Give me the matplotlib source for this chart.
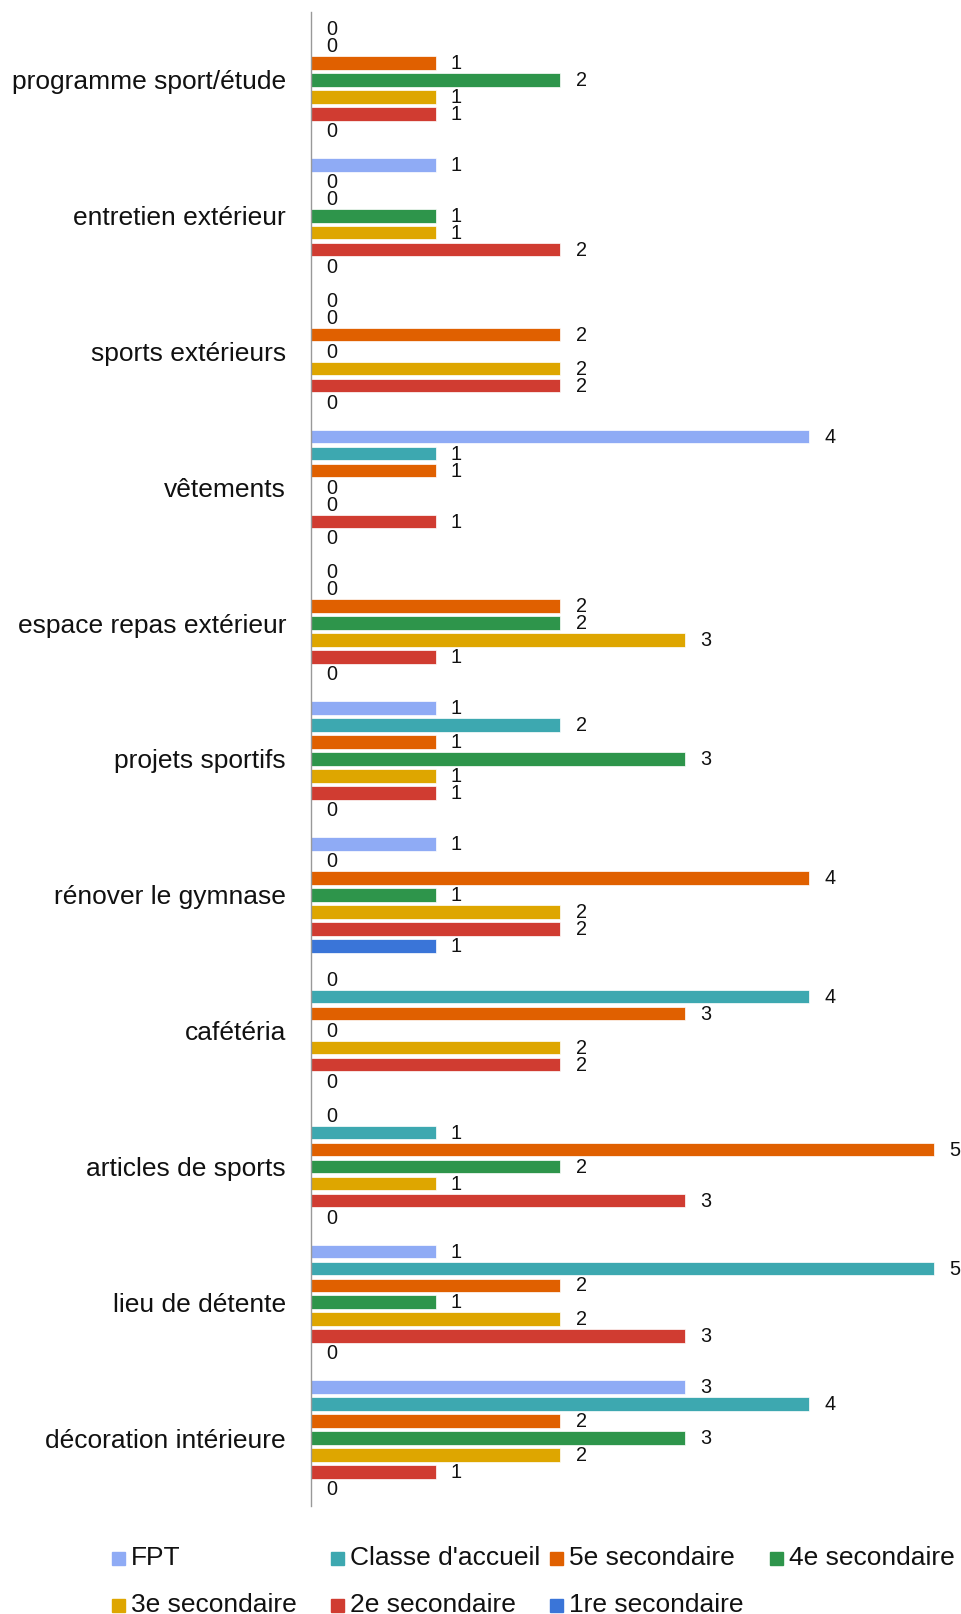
import numpy as np
import matplotlib
matplotlib.use("Agg")
import matplotlib.pyplot as plt
from matplotlib.patches import Rectangle

plt.rcParams["font.family"] = ["Liberation Sans", "DejaVu Sans"]

categories = [
    "programme sport/étude", "entretien extérieur", "sports extérieurs",
    "vêtements", "espace repas extérieur", "projets sportifs",
    "rénover le gymnase", "cafétéria", "articles de sports",
    "lieu de détente", "décoration intérieure",
]
series_names = [
    "FPT", "Classe d'accueil", "5e secondaire", "4e secondaire",
    "3e secondaire", "2e secondaire", "1re secondaire",
]
fpt = [0, 1, 0, 4, 0, 1, 1, 0, 0, 1, 3]
accueil = [0, 0, 0, 1, 0, 2, 0, 4, 1, 5, 4]
sec5 = [1, 0, 2, 1, 2, 1, 4, 3, 5, 2, 2]
sec4 = [2, 1, 0, 0, 2, 3, 1, 0, 2, 1, 3]
sec3 = [1, 1, 2, 0, 3, 1, 2, 2, 1, 2, 2]
sec2 = [1, 2, 2, 1, 1, 1, 2, 2, 3, 3, 1]
sec1 = [0, 0, 0, 0, 0, 0, 1, 0, 0, 0, 0]
colors = ["#8FABF5", "#3DA8B0", "#E06000", "#2E954B", "#DEA600", "#D03C31", "#3A75D8"]

series = [fpt, accueil, sec5, sec4, sec3, sec2, sec1]

W, H = 961, 1614
fig = plt.figure(figsize=(W / 100, H / 100), dpi=100)
ax = fig.add_axes([311 / W, 1 - 1506 / H, 648 / W, (1506 - 12) / H])

y = np.arange(len(categories))
slot = 0.125
for j, (vals, col) in enumerate(zip(series, colors)):
    yy = y + (j - 3) * slot
    ax.barh(yy, vals, height=0.1, color=col, edgecolor="white", linewidth=0.5)
    for v, yc in zip(vals, yy):
        ax.annotate(str(v), (v, yc), xytext=(11, -0.5), textcoords="offset points",
                    ha="left", va="center", fontsize=14.3, color="#111111",
                    annotation_clip=False)

ax.set_xlim(0, 5.2)
ax.set_ylim(len(categories) - 0.5, -0.5)
ax.set_yticks(y)
ax.set_yticklabels(categories, fontsize=19, color="#111111")
ax.tick_params(axis="y", length=0, pad=18)
ax.set_xticks([])
for s in ["top", "right", "bottom"]:
    ax.spines[s].set_visible(False)
ax.spines["left"].set_color("#999999")
ax.spines["left"].set_linewidth(1)

# legend, two rows
col_x = [112, 331, 550, 770]
row_y = [1558, 1605]
for k, (name, col) in enumerate(zip(series_names, colors)):
    r, c = divmod(k, 4)
    x0 = col_x[c]
    yc = row_y[r]
    fig.patches.append(Rectangle((x0 / W, 1 - (yc + 6.5) / H), 13 / W, 13 / H,
                                 transform=fig.transFigure, color=col))
    fig.text((x0 + 19) / W, 1 - yc / H, name, fontsize=19, color="#111111",
             ha="left", va="center")

fig.savefig("out.png", dpi=100)
